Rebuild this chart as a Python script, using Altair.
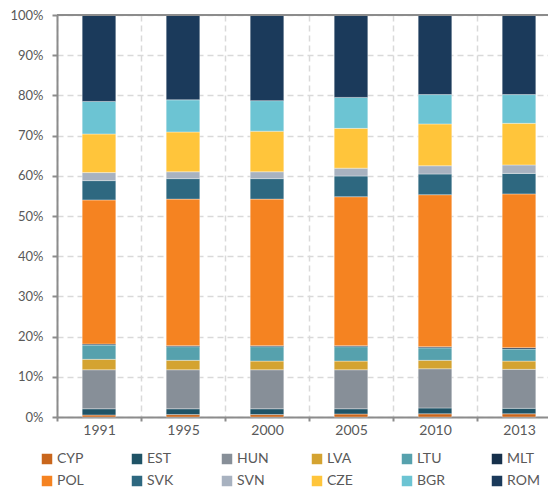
import altair as alt
import pandas as pd

years = ["1991", "1995", "2000", "2005", "2010", "2013"]
countries = ["CYP", "EST", "HUN", "LVA", "LTU", "MLT",
             "POL", "SVK", "SVN", "CZE", "BGR", "ROM"]
colors = ["#C9661C", "#1F5366", "#878F98", "#D4A331", "#56A1AD", "#16304B",
          "#F58321", "#2E6880", "#A8B2C0", "#FFC53B", "#6CC4D3", "#1B3A5B"]

# shares in percent, one list per country, in the order of `years`
CYP = [0.5, 0.6, 0.6, 0.75, 0.8, 0.8]
EST = [1.55, 1.45, 1.45, 1.3, 1.45, 1.35]
HUN = [9.7, 9.7, 9.7, 9.7, 9.75, 9.7]
LVA = [2.6, 2.35, 2.15, 2.15, 2.1, 2.05]
LTU = [3.55, 3.4, 3.6, 3.6, 3.1, 3.0]
MLT = [0.25, 0.25, 0.25, 0.25, 0.3, 0.35]
POL = [35.85, 36.45, 36.45, 37.05, 37.8, 38.25]
SVK = [4.8, 5.1, 5.1, 5.15, 5.15, 5.1]
SVN = [2.0, 1.7, 1.7, 1.95, 2.05, 2.1]
CZE = [9.6, 9.9, 10.1, 9.9, 10.4, 10.35]
BGR = [8.1, 8.0, 7.6, 7.7, 7.3, 7.15]
ROM = [21.5, 21.1, 21.3, 20.5, 19.8, 19.8]

series = [CYP, EST, HUN, LVA, LTU, MLT, POL, SVK, SVN, CZE, BGR, ROM]
rows = []
for i, (c, vals) in enumerate(zip(countries, series)):
    for y, v in zip(years, vals):
        rows.append({"year": y, "country": c, "value": v, "idx": i})
df = pd.DataFrame(rows)

axis_gray = "#8c8c8c"
text_gray = "#595959"
grid_gray = "#d9d9d9"

bars = alt.Chart(df).mark_bar(
    width=alt.RelativeBandSize(0.4), stroke="white", strokeWidth=0.5, strokeOpacity=0.7
).encode(
    x=alt.X("year:N", sort=years,
            scale=alt.Scale(paddingInner=0, paddingOuter=0, range=[0, 504]),
            axis=alt.Axis(title=None, tickBand="extent", grid=True, gridDash=[6, 4],
                          gridColor=grid_gray, gridWidth=1.5, labelAngle=0,
                          domainColor=axis_gray, domainWidth=2, tickColor=axis_gray,
                          tickWidth=2, tickSize=4, labelFontSize=14,
                          labelColor=text_gray, labelPadding=2)),
    y=alt.Y("value:Q", stack="zero",
            scale=alt.Scale(domain=[0, 100], nice=False),
            axis=alt.Axis(title=None, values=list(range(0, 101, 10)),
                          labelExpr="datum.value + '%'", grid=True, gridDash=[6, 4],
                          gridColor=grid_gray, gridWidth=1.5, domainColor=axis_gray,
                          domainWidth=2, tickColor=axis_gray, tickWidth=2, tickSize=5,
                          labelFontSize=13, labelColor=text_gray, labelPadding=9)),
    color=alt.Color("country:N", sort=countries,
                    scale=alt.Scale(domain=countries, range=colors),
                    legend=alt.Legend(orient="none", legendX=-17, legendY=437,
                                      direction="horizontal", columns=6, title=None,
                                      symbolType="square", symbolSize=110,
                                      symbolStrokeWidth=0, labelFontSize=14,
                                      labelColor=text_gray, columnPadding=40,
                                      rowPadding=8, gridAlign="all", labelOffset=3)),
    order=alt.Order("idx:Q"),
)

top = alt.Chart(pd.DataFrame({"value": [100]})).mark_rule(
    color=axis_gray, strokeWidth=2
).encode(y="value:Q")

chart = alt.layer(bars, top).properties(
    width=491, height=402,
    autosize=alt.AutoSizeParams(type="none"),
    padding={"left": 49, "top": 7, "right": 0, "bottom": 76},
).configure(font="Lato").configure_view(stroke=None)

chart.save("out.html", embed_options={"renderer": "svg", "actions": False})
